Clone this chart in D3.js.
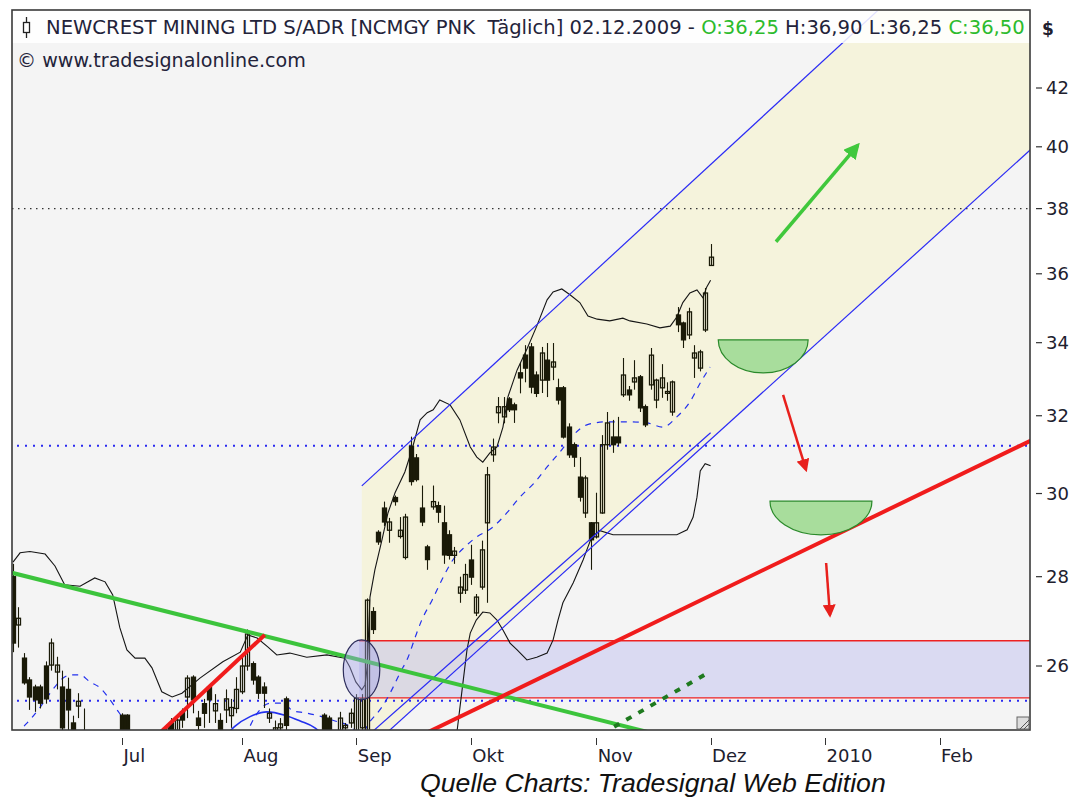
<!DOCTYPE html>
<html>
<head>
<meta charset="utf-8">
<script src="https://cdn.jsdelivr.net/npm/d3@7"></script>
<style>
body { margin: 0; background: #fff; }
text { font-family: "DejaVu Sans", Verdana, sans-serif; }
</style>
</head>
<body>
<svg id="chart" width="1073" height="798"></svg>
<script>
//////////////////////////////////////////////////////////////////////////////
// Data. Bars are trading days, index 0 = early June 2009

var opens  = [28.0,26.9,26.17,25.7,25.55,25.55,26.0,26.02,25.87,25.55,25.5,24.8,25.15,24.5,24.3,24.1,23.9,24.0,23.9,24.3,
              24.96,24.96,24.3,24.0,23.7,23.8,24.0,24.3,24.6,24.8,24.6,25.03,25.34,25.76,24.9,25.2,25.55,25.05,24.85,25.07,
              24.95,25.1,25.45,26.0,26.05,25.76,25.55,24.9,24.6,24.7,25.3,24.5,24.3,24.4,24.2,24.3,24.1,24.96,24.9,24.4,
              24.5,24.7,24.8,24.6,24.7,24.6,27.2,29.05,29.64,29.1,29.9,28.95,28.45,31.2,30.9,29.64,28.7,29.67,29.7,29.28,
              28.99,28.5,27.62,27.69,28.39,27.17,27.76,29.28,30.98,32.08,31.97,32.45,32.29,33.16,33.65,33.88,33.1,32.96,33.51,33.32,
              32.75,32.75,31.7,31.24,30.41,29.52,29.28,28.94,29.52,31.24,31.44,31.44,32.56,32.69,32.91,33.05,32.24,32.83,32.42,32.75,
              32.6,32.1,34.79,34.56,34.22,33.57,33.29,34.36,36.25];
var highs  = [28.3,27.3,26.28,25.76,25.6,25.6,26.1,26.6,26.2,25.9,25.75,24.95,25.42,25.1,24.45,24.3,24.2,24.3,24.4,24.55,
              25.0,24.98,24.5,24.2,23.9,24.1,24.4,24.55,24.76,24.9,24.96,25.1,25.8,25.8,25.05,25.3,25.6,25.4,25.0,25.5,
              25.3,25.76,26.2,26.8,26.1,25.8,25.65,25.1,24.85,24.9,25.35,24.6,24.5,24.55,24.4,24.5,24.4,25.0,24.95,24.55,
              25.03,24.8,25.1,25.4,25.4,27.5,27.3,29.1,29.8,29.4,29.95,29.42,29.5,31.45,31.0,30.2,28.75,30.2,29.8,29.7,
              29.1,28.7,28.0,28.3,28.75,27.6,28.85,30.67,31.4,32.5,32.5,32.5,32.35,33.43,33.93,33.99,33.2,33.88,33.99,33.99,
              33.0,32.8,31.8,31.3,30.92,30.45,29.3,30.02,31.49,32.1,31.89,31.97,33.57,32.8,33.51,33.1,32.3,33.85,33.0,33.4,
              32.9,32.95,35.02,34.6,35.0,33.93,33.8,35.58,36.90];
var lows   = [26.3,26.4,25.6,25.07,25.03,25.1,25.2,25.9,25.5,24.5,24.6,24.4,24.9,24.3,23.9,23.8,23.6,23.7,23.8,24.0,
              24.3,24.3,23.9,23.6,23.4,23.6,23.9,24.1,24.4,24.5,24.5,24.7,24.9,25.0,24.5,24.7,24.8,24.8,24.4,24.8,
              24.7,25.0,25.4,25.9,25.6,25.3,25.11,24.8,24.4,24.5,24.5,24.2,24.0,24.1,23.9,24.0,23.9,24.3,24.3,24.1,
              24.4,24.6,24.7,24.5,24.6,24.5,26.7,28.75,29.2,28.8,29.7,28.9,28.4,30.2,30.3,29.2,28.16,29.6,29.28,28.3,
              28.4,28.3,27.4,27.6,27.81,27.1,27.7,27.4,30.8,31.8,31.8,32.1,31.81,32.6,32.9,32.6,32.5,32.61,32.5,32.96,
              32.3,31.4,30.9,30.67,29.8,29.4,28.16,28.9,29.5,31.11,31.03,31.2,32.5,32.4,32.7,32.1,31.7,32.7,32.2,32.48,
              32.4,32.0,34.3,33.85,34.1,33.02,33.2,34.3,36.25];
var closes = [26.5,27.05,25.64,25.34,25.28,25.21,25.3,26.5,26.02,24.7,25.07,24.6,25.25,24.6,24.1,23.9,24.05,23.8,24.3,24.4,
              24.4,24.4,24.0,23.7,23.8,24.0,24.3,24.5,24.7,24.6,24.86,24.86,25.74,25.28,24.75,25.0,25.28,25.2,24.6,25.3,
              25.12,25.5,26.0,26.7,25.7,25.42,25.42,25.0,24.7,24.78,24.75,24.3,24.4,24.2,24.3,24.1,24.35,24.5,24.45,24.3,
              24.9,24.75,25.0,25.32,25.3,27.46,26.8,28.82,29.3,29.3,29.8,29.1,29.42,30.3,30.35,29.3,28.4,29.8,29.54,28.51,
              28.5,28.6,27.76,28.05,27.99,27.53,28.63,30.47,31.18,32.24,32.24,32.16,32.16,33.02,33.29,32.77,32.6,33.71,32.96,33.46,
              32.42,31.44,30.98,30.92,29.91,30.39,28.87,29.28,31.24,31.81,31.24,31.29,33.1,32.56,33.02,32.21,31.76,33.65,32.96,33.02,
              32.65,32.91,34.51,34.08,34.88,33.71,33.74,35.43,36.50];

var monthLabels = ["Jul", "Aug", "Sep", "Okt", "Nov", "Dez", "2010", "Feb"];
var monthIndex  = [20, 42, 63, 84, 107, 128, 149, 170];
var priceTicks  = [26, 28, 30, 32, 34, 36, 38, 40, 42];

// band lines [bar index, price]
var upperBand = [[0,28.34],[1.3,28.56],[3.1,28.59],[5.9,28.53],[7.7,28.25],[9.5,27.81],[12.3,27.78],[15,27.97],
    [16.9,27.88],[18.3,27.58],[19.6,26.84],[20.9,26.35],[22.4,26.17],[24.2,26.17],[25.5,25.96],[27.3,25.45],
    [29.2,25.34],[31,25.42],[34.3,25.74],[38.5,26.09],[41.7,26.30],[43.1,26.68],[44.8,26.61],[46.8,26.41],
    [48.4,26.24],[50.8,26.28],[53.9,26.19],[57.6,26.24],[60.9,26.17],[61.8,25.98],[62.9,25.66],[64,25.49],
    [64.6,25.6],[65,25.98],[65.5,27.53],[66.4,28.16],[67.7,28.87],[68.8,29.52],[70.1,30.02],[71.9,30.54],
    [73.2,31.11],[74.7,31.89],[76,32.08],[77.1,32.16],[78.3,32.42],[80.2,32.29],[82,31.89],[83.9,31.18],
    [85.1,30.92],[86.2,30.79],[87.5,31.03],[88.8,31.18],[89.9,31.70],[90.8,32.50],[92.5,33.24],[94.3,33.82],
    [96.1,34.47],[98,35.23],[99.1,35.46],[100.7,35.55],[102.2,35.38],[104,35.15],[105.5,34.76],[107.2,34.67],
    [109.5,34.62],[111.9,34.70],[113.2,34.62],[116.3,34.53],[118.7,34.42],[120.6,34.47],[121.8,34.73],
    [122.9,35.15],[124.2,35.43],[125.5,35.52],[126.6,35.29],[127.3,35.61],[128,35.81]];
var lowerBand = [[79.8,24.05],[81.5,24.65],[82.4,25.49],[83.3,26.35],[83.9,26.72],[85,27.01],[86.2,27.19],
    [87.5,27.17],[88.8,27.01],[89.9,26.79],[91.2,26.50],[92.5,26.35],[94.3,26.13],[96.1,26.19],[98,26.28],
    [99.1,26.57],[100,27.01],[100.9,27.40],[102.8,27.86],[104.6,28.39],[105.5,28.70],[106.2,28.94],[107.7,29.09],
    [110.1,28.99],[116.9,28.99],[121.8,28.99],[123.7,29.11],[124.8,29.42],[125.5,29.91],[126.1,30.57],
    [127,30.75],[128,30.70]];
var avgEarly = [[0,24.3],[1.8,24.70],[3.1,24.86],[5,25.13],[6.8,25.42],[9.2,25.74],[10.5,25.81],[12.3,25.81],
    [14.1,25.66],[16,25.53],[17.8,25.28],[19.1,25.07],[20.6,24.82],[21.8,24.55]];
var avgLate = [[42.6,24.52],[45,25.03],[47.2,25.21],[49.5,25.21],[51.4,25.05],[53.6,25.01],[56.3,24.94],
    [59.1,24.84],[61.3,24.76],[62.8,24.65],[64,24.6],[65.5,24.83],[67.7,25.13],[69.5,25.49],[71,25.85],
    [72.5,26.19],[73.8,26.63],[75,27.01],[76.9,27.46],[78.7,27.93],[80.7,28.39],[82.9,28.70],[85.1,28.94],
    [87.9,29.16],[90.6,29.52],[93,29.91],[95.8,30.29],[98,30.67],[100.4,31.06],[102.8,31.49],[105.3,31.76],
    [109,31.84],[112.7,31.84],[116.3,31.81],[119.3,31.70],[121.8,31.97],[124.2,32.37],[126.1,32.88],[127.9,33.32]];
var arcLine = [[38.9,24.52],[40.7,24.73],[43.5,24.93],[46.6,25.03],[49.9,24.96],[52.7,24.84],[55.4,24.70],[57.2,24.52]];

// drawn tools [bar index, price]
var channelTop    = [[64, 30.19], [187, 50.4]];
var channelBottom = [[64, 24.14], [186.8, 39.92]];
var channelInner  = [[64, 24.43], [128, 31.55]];
var greenTrend    = [[-0.2, 28.09], [126, 24.35]];
var redShort      = [[26.5, 24.55], [46.2, 26.68]];
var redLong       = [[75, 24.55], [186.8, 31.35]];
var greenDotted   = [[110.3, 24.72], [127.6, 25.86]];
var supportZone   = [63.5, 26.55, 25.32];       // start bar, top, bottom
var dottedBlue    = [31.21, 25.26];
var dottedBlack   = [38.0];
var circleBox     = [[60.6, 26.57], [67.3, 25.28]];
var arrowUp       = [[140, 36.97], [155, 40.05]];
var arrowsDown    = [[[141.3, 32.56], [145.5, 30.60]], [[149.2, 28.32], [149.9, 27.12]]];
var bowls         = [[[129.4, 34.08], [145.9, 33.16]], [[138.9, 29.81], [157.6, 28.99]]];

//////////////////////////////////////////////////////////////////////////////
// Layout

var L = 12, R = 1030, T = 11, B = 730;
var svg = d3.select("#chart");

var x = d3.scaleLinear().domain([0, 128]).range([13, 710.6]);
var y = d3.scaleLog().domain([26, 42]).range([666, 88]);

function px(d) { return x(d[0]); }
function py(d) { return y(d[1]); }
var line = d3.line().x(px).y(py);
var smooth = d3.line().x(px).y(py).curve(d3.curveMonotoneX);

svg.append("rect").attr("width", 1073).attr("height", 798).attr("fill", "#fff");
svg.append("defs").append("clipPath").attr("id", "plotClip")
    .append("rect").attr("x", L).attr("y", T).attr("width", R - L).attr("height", B - T);

var defs = svg.select("defs");
function marker(id, color, size) {
    defs.append("marker")
        .attr("id", id).attr("viewBox", "0 0 10 10").attr("refX", 8).attr("refY", 5)
        .attr("markerUnits", "userSpaceOnUse").attr("markerWidth", size).attr("markerHeight", size)
        .attr("orient", "auto")
        .append("path").attr("d", "M0,0 L10,5 L0,10 Z").attr("fill", color);
}
marker("headGreen", "#40c83c", 16);
marker("headRed", "#e8201c", 13);

var plot = svg.append("g").attr("clip-path", "url(#plotClip)");
plot.append("rect").attr("x", L).attr("y", T).attr("width", R - L).attr("height", B - T).attr("fill", "#f4f4f4");

// channel fill
plot.append("path")
    .attr("d", line([channelTop[0], channelTop[1], channelBottom[1], channelBottom[0]]) + "Z")
    .attr("fill", "#f5f3dc");

// support zone
plot.append("rect")
    .attr("x", x(supportZone[0])).attr("y", y(supportZone[1]))
    .attr("width", R - x(supportZone[0])).attr("height", y(supportZone[2]) - y(supportZone[1]))
    .attr("fill", "rgba(175,175,238,0.38)");
[supportZone[1], supportZone[2]].forEach(function(v) {
    plot.append("line").attr("x1", x(supportZone[0])).attr("x2", R)
        .attr("y1", y(v)).attr("y2", y(v)).attr("stroke", "#ee2222").attr("stroke-width", 1.3);
});

// dotted levels
dottedBlue.forEach(function(v) {
    plot.append("line").attr("x1", L + 5).attr("x2", R).attr("y1", y(v)).attr("y2", y(v))
        .attr("stroke", "#2a2af0").attr("stroke-width", 2).attr("stroke-dasharray", "2,6");
});
dottedBlack.forEach(function(v) {
    plot.append("line").attr("x1", L).attr("x2", R).attr("y1", y(v)).attr("y2", y(v))
        .attr("stroke", "#333").attr("stroke-width", 1.3).attr("stroke-dasharray", "1.5,4.5");
});

// moving averages
[avgEarly, avgLate].forEach(function(s) {
    plot.append("path").attr("d", smooth(s)).attr("fill", "none")
        .attr("stroke", "#2230ee").attr("stroke-width", 1.2).attr("stroke-dasharray", "6,6");
});
plot.append("path").attr("d", smooth(arcLine)).attr("fill", "none")
    .attr("stroke", "#2230ee").attr("stroke-width", 1.6);

// bands
[upperBand, lowerBand].forEach(function(s) {
    plot.append("path").attr("d", line(s)).attr("fill", "none")
        .attr("stroke", "#151515").attr("stroke-width", 1.1);
});

// candles
var bars = d3.range(opens.length);
var candles = plot.append("g").selectAll("g").data(bars).enter().append("g");
candles.append("line")
    .attr("x1", function(i) { return Math.round(x(i)) + 0.5; })
    .attr("x2", function(i) { return Math.round(x(i)) + 0.5; })
    .attr("y1", function(i) { return y(highs[i]); })
    .attr("y2", function(i) { return y(lows[i]); })
    .attr("stroke", "#1a1a08").attr("stroke-width", 1.1);
candles.append("rect")
    .attr("x", function(i) { return Math.round(x(i)) - 1.5; })
    .attr("width", 4)
    .attr("y", function(i) { return y(Math.max(opens[i], closes[i])); })
    .attr("height", function(i) { return Math.max(1, y(Math.min(opens[i], closes[i])) - y(Math.max(opens[i], closes[i]))); })
    .attr("fill", function(i) { return closes[i] >= opens[i] ? "none" : "#1a1a08"; })
    .attr("stroke", "#1a1a08").attr("stroke-width", 1.3);

// channel lines
[channelTop, channelBottom, channelInner].forEach(function(s) {
    plot.append("path").attr("d", line(s)).attr("fill", "none")
        .attr("stroke", "#2a2af5").attr("stroke-width", 1.2);
});

// trend lines
plot.append("path").attr("d", line(greenTrend)).attr("stroke", "#3cc43c").attr("stroke-width", 4).attr("fill", "none");
plot.append("path").attr("d", line(redShort)).attr("stroke", "#f01c1c").attr("stroke-width", 4).attr("fill", "none");
plot.append("path").attr("d", line(redLong)).attr("stroke", "#f01c1c").attr("stroke-width", 4).attr("fill", "none");
plot.append("path").attr("d", line(greenDotted)).attr("stroke", "#1f7a1f").attr("stroke-width", 4)
    .attr("stroke-dasharray", "6,8").attr("fill", "none");

// highlighted breakout
plot.append("ellipse")
    .attr("cx", (x(circleBox[0][0]) + x(circleBox[1][0])) / 2)
    .attr("cy", (y(circleBox[0][1]) + y(circleBox[1][1])) / 2)
    .attr("rx", (x(circleBox[1][0]) - x(circleBox[0][0])) / 2)
    .attr("ry", (y(circleBox[1][1]) - y(circleBox[0][1])) / 2)
    .attr("fill", "rgba(160,160,230,0.42)").attr("stroke", "#2e2e5c").attr("stroke-width", 1.2);

// bowls
bowls.forEach(function(b) {
    var x0 = x(b[0][0]), x1 = x(b[1][0]), yt = y(b[0][1]), yb = y(b[1][1]);
    plot.append("path")
        .attr("d", "M" + x0 + "," + yt + " A" + (x1 - x0) / 2 + "," + (yb - yt) + " 0 0 0 " + x1 + "," + yt + " Z")
        .attr("fill", "#a8dd9c").attr("stroke", "#2a8a2a").attr("stroke-width", 1.2);
});

// arrows
plot.append("path").attr("d", line(arrowUp)).attr("stroke", "#40c83c").attr("stroke-width", 3.5)
    .attr("fill", "none").attr("marker-end", "url(#headGreen)");
arrowsDown.forEach(function(a) {
    plot.append("path").attr("d", line(a)).attr("stroke", "#e8201c").attr("stroke-width", 2.5)
        .attr("fill", "none").attr("marker-end", "url(#headRed)");
});

// title band
plot.append("rect").attr("x", L).attr("y", T).attr("width", R - L).attr("height", 32)
    .attr("fill", "#fff").attr("opacity", 0.85);

// frame
svg.append("rect").attr("x", L).attr("y", T - 1).attr("width", R - L).attr("height", B - T + 1)
    .attr("fill", "none").attr("stroke", "#3a3a3a").attr("stroke-width", 1.6);
var grip = svg.append("g").attr("transform", "translate(" + (R - 13) + "," + (B - 13) + ")");
grip.append("rect").attr("width", 12).attr("height", 12).attr("fill", "#ddd").attr("stroke", "#666");
grip.append("path").attr("d", "M3,12 L12,3 M7,12 L12,7").attr("stroke", "#555");

// y axis
var yAxis = svg.append("g");
priceTicks.forEach(function(v) {
    yAxis.append("line").attr("x1", R + 6).attr("x2", R + 12).attr("y1", y(v)).attr("y2", y(v))
        .attr("stroke", "#333").attr("stroke-width", 1.2);
    yAxis.append("text").attr("x", R + 16).attr("y", y(v)).attr("dy", "0.36em")
        .attr("font-size", 18).attr("fill", "#20202e").text(v);
});
svg.append("text").attr("x", R + 12).attr("y", 35).attr("font-size", 17).attr("font-weight", "bold")
    .attr("fill", "#20202e").text("$");

// x axis
var xAxis = svg.append("g");
monthIndex.forEach(function(m, k) {
    xAxis.append("line").attr("x1", Math.round(x(m)) + 0.5).attr("x2", Math.round(x(m)) + 0.5)
        .attr("y1", B + 8).attr("y2", B + 15).attr("stroke", "#333");
    xAxis.append("text").attr("x", x(m) + 1.5).attr("y", 762).attr("font-size", 18)
        .attr("fill", "#20202e").text(monthLabels[k]);
});

// titles
function fitWidth(sel, w) {
    var len = sel.node().getComputedTextLength();
    sel.attr("font-size", parseFloat(sel.attr("font-size")) * w / len);
}
var last = opens.length - 1;
function fmt(v) { return v.toFixed(2).replace(".", ","); }

var icon = svg.append("g");
icon.append("line").attr("x1", 26.5).attr("x2", 26.5).attr("y1", 17).attr("y2", 38).attr("stroke", "#222").attr("stroke-width", 1.3);
icon.append("rect").attr("x", 23.5).attr("y", 22.5).attr("width", 6).attr("height", 10).attr("fill", "#fff").attr("stroke", "#222").attr("stroke-width", 1.3);

var title = svg.append("text").attr("x", 46).attr("y", 34).attr("font-size", 16)
    .style("white-space", "pre").attr("fill", "#23233a");
title.append("tspan").text("NEWCREST MINING LTD S/ADR [NCMGY PNK  Täglich] 02.12.2009 - ");
title.append("tspan").attr("fill", "#2cbb2c").text("O:" + fmt(opens[last]));
title.append("tspan").text(" H:" + fmt(highs[last]) + " L:" + fmt(lows[last]) + " ");
title.append("tspan").attr("fill", "#2cbb2c").text("C:" + fmt(closes[last]));
fitWidth(title, 979);

var copy = svg.append("text").attr("x", 17).attr("y", 67).attr("font-size", 16)
    .attr("fill", "#23233a").text("© www.tradesignalonline.com");
fitWidth(copy, 289);

var source = svg.append("text").attr("x", 420).attr("y", 792).attr("font-size", 22)
    .attr("font-style", "italic").attr("fill", "#111")
    .style("font-family", "'Liberation Sans', Arial, sans-serif")
    .text("Quelle Charts: Tradesignal Web Edition");
fitWidth(source, 466);
</script>
</body>
</html>
